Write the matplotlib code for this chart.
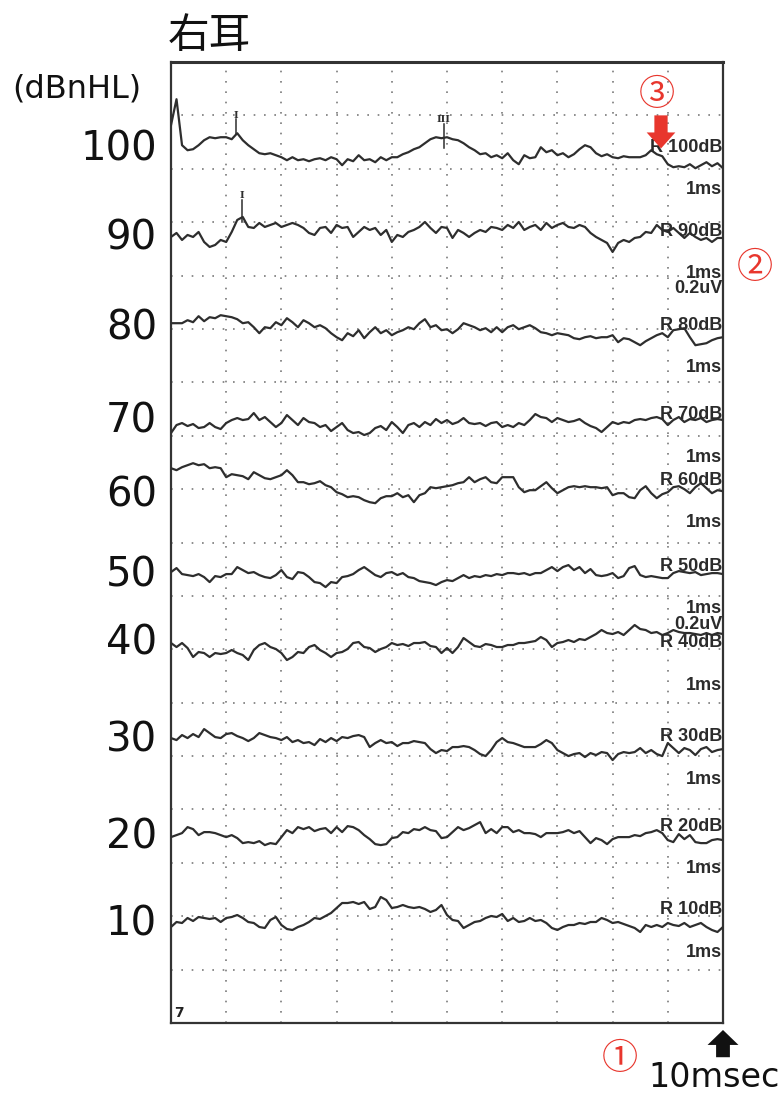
import matplotlib
matplotlib.use("Agg")
import matplotlib.pyplot as plt
from matplotlib.patches import FancyArrow
import numpy as np

plt.rcParams['font.family'] = ['DejaVu Sans']

# sampling times of the traces (ms)
TIME_MS = np.round(np.arange(101) * 0.1, 1)

LEVELS = [100, 90, 80, 70, 60, 50, 40, 30, 20, 10]

# trace amplitudes, 53.4 units = one grid division, positive up
AMP_100 = [35, 61, 15, 10, 11, 15, 20, 23, 22, 23,
           23, 21, 27, 20, 15, 11, 7, 6, 7, 5,
           3, 0, 3, 0, 1, -1, 1, 2, 0, 3,
           1, -5, 1, -1, 5, 0, 1, -2, 3, 0,
           3, 3, 6, 8, 11, 13, 17, 21, 23, 22,
           23, 21, 20, 17, 13, 10, 6, 7, 3, 5,
           2, 7, 0, -4, 5, 2, 3, 13, 8, 10,
           5, 7, 3, 6, 11, 15, 13, 7, 4, 6,
           3, 2, 4, 3, 3, 3, 5, 10, 6, 4,
           -4, -7, -6, -7, -4, -8, -5, -2, -6, -3,
           -8]
AMP_90 = [-2, 2, -5, 0, -2, 3, -7, -12, -10, -5,
          -7, 3, 15, 18, 8, 7, 12, 8, 10, 12,
          8, 10, 12, 10, 7, 2, 0, 7, 8, 2,
          10, 7, 8, -2, 3, 8, 5, 7, 0, 5,
          -7, 0, -2, 3, 5, 8, 13, 7, 2, 8,
          7, -3, 5, 2, -2, 2, 5, 3, 8, 7,
          5, 10, 7, 13, 5, 8, 10, 5, 12, 7,
          10, 12, 8, 7, 10, 8, 2, -2, -5, -8,
          -17, -8, -5, -7, -3, -2, 3, 2, 10, 5,
          3, 7, 2, -3, 2, -2, -5, -3, -7, -3,
          -3]
AMP_80 = [2, 2, 2, 5, 3, 9, 4, 8, 7, 10,
          9, 8, 6, 2, 3, -2, -8, -2, -3, 3,
          0, 7, 3, -2, 5, 2, -2, 0, -3, -8,
          -12, -15, -8, -11, -5, -13, -7, -2, -8, -5,
          -10, -7, -5, -2, -4, 2, 6, -2, 0, -5,
          -4, -8, -4, 2, 0, -2, -5, -3, -7, -2,
          -7, -2, 0, -4, -2, 0, -3, -7, -8, -10,
          -8, -9, -10, -13, -14, -12, -11, -13, -12, -12,
          -10, -17, -13, -14, -17, -20, -16, -13, -10, -8,
          -12, -5, -4, -3, -12, -20, -19, -18, -15, -13,
          -12]
AMP_70 = [-8, 0, 2, -1, 1, -3, -2, 2, -2, -4,
          2, 5, 7, 5, 6, 12, 5, 8, 3, -2,
          2, 10, 5, 0, 7, 3, 2, -2, 0, -6,
          -2, 2, -5, -8, -7, -10, -8, -3, -1, -5,
          3, -2, -8, 0, 2, -2, 3, 0, 6, 2,
          5, 1, 3, 7, 2, 1, 2, -1, 2, 3,
          -2, 0, -2, 2, 0, 5, 11, 8, 7, 3,
          7, 5, 3, 4, 6, 2, -1, -3, -7, -2,
          3, 1, 3, 2, 5, 6, 5, 7, 8, 6,
          0, 5, 8, 3, 6, 5, 7, 3, 5, 6,
          5]
AMP_60 = [22, 20, 23, 25, 27, 25, 26, 22, 23, 22,
          13, 16, 15, 14, 11, 18, 15, 12, 11, 13,
          15, 20, 15, 8, 8, 6, 7, 9, 5, 3,
          -2, -4, -7, -6, -7, -10, -12, -13, -8, -6,
          -6, -3, -7, -5, -12, -5, -3, 3, 2, 3,
          4, 5, 7, 8, 13, 8, 11, 13, 8, 7,
          13, 13, 13, 3, -2, 0, 0, 4, 8, 2,
          -3, 0, 3, 4, 3, 4, 3, 3, 2, 3,
          -5, -3, -3, -7, -8, 0, 4, -3, -8, -4,
          -2, 3, 4, 1, -3, 3, 7, 2, -3, 0,
          -1]
AMP_50 = [3, 7, 1, 0, -1, 1, -2, -7, -1, -2,
          1, 1, 8, 5, 2, 3, 0, -2, -3, 0,
          5, -2, -4, 3, 2, -2, -7, -8, -12, -7,
          -8, -2, -1, 1, 5, 8, 4, 0, -2, 2,
          3, 0, 2, -2, -3, -6, -7, -8, -10, -7,
          -5, -6, -3, 0, -3, -1, -2, 0, -1, 1,
          0, 2, 2, 1, 2, 0, 2, 2, 5, 8,
          4, 8, 10, 5, 8, 2, 6, 0, -1, 0,
          2, -3, -1, 7, 9, 0, -2, -1, -2, -3,
          -3, 2, 4, 3, 2, 3, 0, 1, 2, 2,
          1]
AMP_40 = [2, -2, 2, -3, -12, -7, -8, -12, -8, -9,
          -8, -5, -8, -10, -15, -5, 0, 2, -2, -4,
          -8, -15, -12, -7, -8, -2, 0, -5, -8, -12,
          -8, -7, -4, 2, 3, -2, -3, -7, -4, -2,
          2, 0, 1, -1, 2, 2, 3, -1, -2, -8,
          -3, -8, -2, 7, 3, -1, -2, 1, 0, -2,
          -2, 0, 0, 2, 2, 3, 4, 8, 5, -2,
          2, 3, 5, 3, 6, 5, 8, 11, 15, 12,
          11, 13, 10, 15, 20, 16, 15, 12, 13, 10,
          12, 15, 13, 12, 12, 11, 10, 12, 10, 12,
          11]
AMP_30 = [2, 0, 5, 2, 6, 3, 11, 7, 3, 2,
          6, 7, 4, 2, -1, 2, 7, 5, 3, 2,
          0, 3, -2, 0, -3, -2, -5, 1, -2, 2,
          -1, 3, 2, 4, 5, 3, -7, -3, 0, -3,
          -2, -6, -3, -3, -1, -2, -3, -9, -13, -10,
          -11, -7, -7, -6, -7, -10, -14, -16, -10, -2,
          2, -2, -3, -5, -7, -7, -7, -4, 0, -3,
          -10, -13, -16, -14, -13, -17, -13, -15, -12, -13,
          -20, -14, -12, -13, -12, -8, -13, -10, -14, -16,
          -3, -8, -13, -8, -10, -15, -9, -7, -12, -10,
          -9]
AMP_20 = [-2, 0, 2, 8, 6, 0, 3, 3, 2, 0,
          -2, 0, -3, -8, -7, -8, -6, -10, -8, -9,
          -2, 5, 2, 8, 6, 8, 4, 6, 7, 2,
          8, 3, 9, 8, 5, 0, -4, -9, -10, -9,
          -3, -2, 3, 2, 6, 5, 8, 5, 4, -3,
          -2, 3, 8, 5, 7, 10, 13, 2, 6, 2,
          8, 8, 3, 5, 2, 2, 1, -2, 2, 2,
          2, 3, 5, 2, 4, -2, -8, -3, -5, -9,
          -4, -2, -2, -2, 0, -1, 2, 3, 5, 2,
          -5, -7, 1, -4, 0, -7, -8, -8, -5, -4,
          -5]
AMP_10 = [-7, -2, -3, 2, -1, 3, 2, 1, 2, -2,
          2, 3, 5, 2, -2, -3, -7, -8, 0, 3,
          -5, -9, -10, -7, -5, -2, 2, 1, 4, 7,
          12, 17, 17, 18, 16, 18, 11, 13, 23, 20,
          12, 13, 15, 13, 12, 13, 11, 8, 10, 15,
          5, 0, -1, -8, -5, -2, -1, 2, 4, 3,
          6, -1, 2, -2, -1, 2, -1, 0, -3, -8,
          -10, -7, -5, -5, -3, -4, -2, -2, 2, 0,
          -3, -2, -4, -6, -8, -12, -5, -7, -5, -7,
          -3, -5, -6, -3, -7, -5, -3, -7, -10, -12,
          -7]

TRACES = [AMP_100, AMP_90, AMP_80, AMP_70, AMP_60,
          AMP_50, AMP_40, AMP_30, AMP_20, AMP_10]

# wave markers: (trace level, latency ms, label)
WAVE_MARKS = [(100, 1.18, "I"), (100, 4.94, "III"), (90, 1.29, "I")]

# layout (grid divisions from the bottom of the frame)
UNITS_PER_DIV = 53.4
TRACE_BASE = [16.16, 14.76, 13.07, 11.20, 9.98, 8.39, 7.08, 5.30, 3.52, 1.93]
LEFT_LABEL_Y = [16.43, 14.76, 13.07, 11.33, 9.94, 8.45, 7.17, 5.36, 3.54, 1.91]
RIGHT_LABEL_Y = [16.40, 14.83, 13.07, 11.39, 10.17, 8.56, 7.12, 5.36, 3.69, 2.12]
SCALE_LABEL_Y = [13.76, 7.47]
MARK_TEXT_Y = [17.00, 16.93, 15.49]
MARK_LINE = [(16.65, 16.93), (16.39, 16.84), (15.00, 15.41)]

fig = plt.figure(figsize=(7.79, 10.93), dpi=100)
ax = fig.add_axes([0.2195, 0.0640, 0.7086, 0.8793])
ax.set_xlim(0, 10)
ax.set_ylim(0, 18)
ax.set_xticks([])
ax.set_yticks([])
for s in ax.spines.values():
    s.set_linewidth(1.6)
    s.set_color("#333333")
ax.spines["top"].set_linewidth(2.2)

grid_kw = dict(color="#7a7a7a", lw=1.2, ls=(0, (1, 5.2)), zorder=1)
for x in range(1, 10):
    ax.axvline(x, **grid_kw)
for y in range(1, 18):
    ax.axhline(y, **grid_kw)

trace_color = "#2e2e2e"
for level, amp, base in zip(LEVELS, TRACES, TRACE_BASE):
    ax.plot(TIME_MS, base + np.array(amp) / UNITS_PER_DIV,
            color=trace_color, lw=1.6, solid_joinstyle="round", zorder=3)

lab_kw = dict(ha="right", va="center", fontsize=13, fontweight="bold",
              family="Liberation Sans", color="#2b2b2b", zorder=4)
for level, ly in zip(LEVELS, RIGHT_LABEL_Y):
    ax.text(9.99, ly, f"R {level}dB", **lab_kw)
    ax.text(9.99, ly - 0.79, "1ms", **lab_kw)
for sy in SCALE_LABEL_Y:
    ax.text(9.99, sy, "0.2uV", **lab_kw)

for level, ly in zip(LEVELS, LEFT_LABEL_Y):
    ax.text(-0.254, ly - 0.27, str(level), ha="right", va="baseline",
            fontsize=29, color="#111111", clip_on=False)

for (level, lat, name), ty, (y0, y1) in zip(WAVE_MARKS, MARK_TEXT_Y, MARK_LINE):
    ax.plot([lat, lat], [y0, y1], color=trace_color, lw=1.1, zorder=3)
    ax.text(lat, ty, name, ha="center", va="center", fontsize=7,
            fontweight="bold", family="DejaVu Serif", color=trace_color)

ax.text(0.05, 0.05, "7", ha="left", va="bottom", fontsize=10,
        fontweight="bold", color="#222222")

red = "#e8362d"
cjk = ["Noto Sans CJK JP", "DejaVu Sans"]
ax.add_patch(FancyArrow(8.877, 17.0, 0, -0.62, width=0.24, head_width=0.52,
                        head_length=0.30, length_includes_head=True,
                        color=red, lw=0, zorder=5))
ax.text(8.80, 17.38, "③", ha="center", va="center", fontsize=26,
        family=cjk, color=red, clip_on=False)
ax.text(10.58, 14.14, "②", ha="center", va="center", fontsize=26,
        family=cjk, color=red, clip_on=False)
ax.text(8.13, -0.67, "①", ha="center", va="center", fontsize=26,
        family=cjk, color=red, clip_on=False)
ax.add_patch(FancyArrow(10.0, -0.64, 0, 0.51, width=0.25, head_width=0.56,
                        head_length=0.28, length_includes_head=True,
                        color="#111111", lw=0, zorder=5, clip_on=False))

fig.text(0.2157, 1 - 48 / 1093, "右耳", ha="left", va="baseline",
         fontsize=30, family=cjk, color="#111111")
fig.text(12 / 779, 1 - 97 / 1093, "(dBnHL)", ha="left", va="baseline",
         fontsize=23, color="#111111")
fig.text(648 / 779, 1 - 1087 / 1093, "10msec", ha="left", va="baseline",
         fontsize=24, color="#111111")

fig.savefig("out.png", dpi=100, facecolor="white")
